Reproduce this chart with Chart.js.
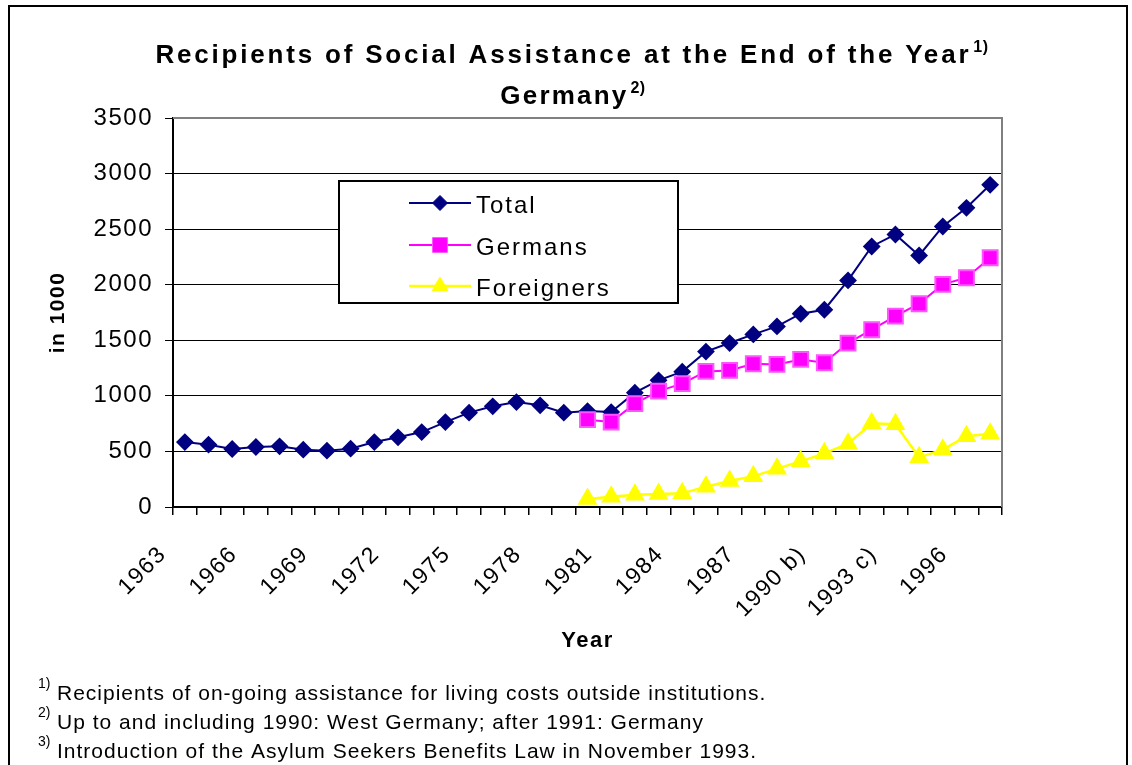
<!DOCTYPE html>
<html>
<head>
<meta charset="utf-8">
<title>Recipients of Social Assistance</title>
<script src="https://cdn.jsdelivr.net/npm/chart.js@4"></script>
<style>
  html, body { margin: 0; padding: 0; background: #fff; }
  #wrap { width: 1132px; height: 765px; }
</style>
</head>
<body>
<div id="wrap"><canvas id="myChart" width="1132" height="765"></canvas></div>
<script>
let years = [
  '1963', '1964', '1965', '1966', '1967', '1968', '1969', '1970', '1971', '1972',
  '1973', '1974', '1975', '1976', '1977', '1978', '1979', '1980', '1981', '1982',
  '1983', '1984', '1985', '1986', '1987', '1988', '1989', '1990 b)', '1991', '1992',
  '1993 c)', '1994', '1995', '1996', '1997'
]

// recipients in 1000
let total = [
  584, 561, 522, 540, 546, 516, 507, 525, 584, 627,
  674, 764, 849, 906, 944, 915, 849, 863, 854, 1029,
  1140, 1218, 1398, 1475, 1553, 1625, 1739, 1775, 2039, 2344,
  2452, 2263, 2524, 2692, 2899
]
let germans = [
  null, null, null, null, null, null, null, null, null, null,
  null, null, null, null, null, null, null, 786, 764, 930,
  1043, 1110, 1220, 1229, 1289, 1283, 1328, 1298, 1475, 1595,
  1718, 1829, 2003, 2063, 2243
]
let foreigners = [
  null, null, null, null, null, null, null, null, null, null,
  null, null, null, null, null, null, null, 72, 93, 111,
  117, 123, 183, 234, 276, 345, 411, 483, 570, 753,
  745, 447, 516, 636, 660
]

let yMin = 0
let yMax = 3500
let yStep = 500
let labelEvery = 3

let titleLines = [
  ['Recipients of Social Assistance at the End of the Year', '1)'],
  ['Germany', '2)']
]
let footnotes = [
  ['1)', 'Recipients of on-going assistance for living costs outside institutions.'],
  ['2)', 'Up to and including 1990: West Germany; after 1991: Germany'],
  ['3)', 'Introduction of the Asylum Seekers Benefits Law in November 1993.']
]

const family = '"Liberation Sans", Arial, sans-serif'
Chart.defaults.font.family = family
Chart.defaults.font.size = 24
Chart.defaults.color = '#000'

function marker(ctx, style, x, y, r) {
  ctx.beginPath()
  if (style === 'rectRot') {
    ctx.moveTo(x, y - r)
    ctx.lineTo(x + r, y)
    ctx.lineTo(x, y + r)
    ctx.lineTo(x - r, y)
  } else if (style === 'rect') {
    const s = r * Math.SQRT1_2
    ctx.rect(x - s, y - s, 2 * s, 2 * s)
  } else {
    for (let k = 0; k < 3; k++) {
      const a = k * 2 * Math.PI / 3
      const px = x + Math.sin(a) * r
      const py = y - Math.cos(a) * r
      k === 0 ? ctx.moveTo(px, py) : ctx.lineTo(px, py)
    }
  }
  ctx.closePath()
  ctx.fill()
  ctx.stroke()
}

function textWithNote(ctx, text, note, cx, baseline, font, noteFont, spacing, rise) {
  ctx.letterSpacing = spacing + 'px'
  ctx.font = font
  const w1 = ctx.measureText(text).width
  ctx.letterSpacing = '0.5px'
  ctx.font = noteFont
  const w2 = ctx.measureText(note).width
  const x0 = cx - (w1 + 2 + w2) / 2
  ctx.letterSpacing = spacing + 'px'
  ctx.font = font
  ctx.fillText(text, x0, baseline)
  ctx.letterSpacing = '0.5px'
  ctx.font = noteFont
  ctx.fillText(note, x0 + w1 + 2, baseline - rise)
}

const decorations = {
  id: 'decorations',
  beforeUpdate(chart) {
    chart.ctx.letterSpacing = '1.5px'
  },
  beforeDatasetsDraw(chart) {
    // grey edge along top and right of the plot area
    const { ctx, chartArea: a } = chart
    ctx.save()
    ctx.strokeStyle = '#808080'
    ctx.lineWidth = 2
    ctx.beginPath()
    ctx.moveTo(a.left, a.top)
    ctx.lineTo(a.right, a.top)
    ctx.lineTo(a.right, a.bottom)
    ctx.stroke()
    ctx.restore()
  },
  afterDraw(chart) {
    const ctx = chart.ctx
    ctx.save()
    ctx.fillStyle = '#000'
    ctx.textAlign = 'left'
    ctx.textBaseline = 'alphabetic'

    // title
    textWithNote(ctx, titleLines[0][0], titleLines[0][1], 572, 63,
      'bold 26px ' + family, 'bold 16px ' + family, 2.8, 11)
    textWithNote(ctx, titleLines[1][0], titleLines[1][1], 573, 104,
      'bold 26px ' + family, 'bold 16px ' + family, 2.2, 11)

    // legend box
    ctx.letterSpacing = '0px'
    ctx.fillStyle = '#fff'
    ctx.fillRect(339, 181, 339, 122)
    ctx.strokeStyle = '#000'
    ctx.lineWidth = 2
    ctx.strokeRect(339, 181, 339, 122)

    const rowY = [203, 245, 286]
    chart.data.datasets.forEach((ds, i) => {
      const y = rowY[i]
      ctx.strokeStyle = ds.borderColor
      ctx.lineWidth = ds.borderWidth
      ctx.beginPath()
      ctx.moveTo(409, y)
      ctx.lineTo(471, y)
      ctx.stroke()
      ctx.fillStyle = ds.pointBackgroundColor
      ctx.strokeStyle = ds.pointBorderColor
      ctx.lineWidth = 1
      marker(ctx, ds.pointStyle, 440, y, ds.pointRadius)
      ctx.fillStyle = '#000'
      ctx.font = '24px ' + family
      ctx.letterSpacing = '2px'
      ctx.fillText(ds.label, 476, y + 10)
    })

    // footnotes
    footnotes.forEach((f, i) => {
      const base = 700 + i * 29
      ctx.letterSpacing = '0px'
      ctx.font = '14px ' + family
      ctx.fillText(f[0], 38, base - 12)
      ctx.letterSpacing = '1px'
      ctx.font = '21px ' + family
      ctx.fillText(f[1], 57, base)
    })

    // outer frame
    ctx.strokeStyle = '#000'
    ctx.lineWidth = 2
    ctx.strokeRect(9, 6, 1118, 800)
    ctx.restore()
  }
}

const ctx = document.getElementById('myChart').getContext('2d')
const myChart = new Chart(ctx, {
  type: 'line',
  data: {
    labels: years,
    datasets: [
      {
        label: 'Total',
        data: total,
        borderColor: '#000080',
        borderWidth: 2,
        pointStyle: 'rectRot',
        pointRadius: 7.5,
        pointBackgroundColor: '#000080',
        pointBorderColor: '#000080',
        order: 3
      },
      {
        label: 'Germans',
        data: germans,
        borderColor: '#ff00ff',
        borderWidth: 2,
        pointStyle: 'rect',
        pointRadius: 10.5,
        pointBackgroundColor: '#ff00ff',
        pointBorderColor: '#ff55ff',
        order: 2
      },
      {
        label: 'Foreigners',
        data: foreigners,
        borderColor: '#ffff00',
        borderWidth: 2.5,
        pointStyle: 'triangle',
        pointRadius: 9,
        pointBackgroundColor: '#ffff00',
        pointBorderColor: '#ffff00',
        order: 1
      }
    ]
  },
  options: {
    responsive: false,
    animation: false,
    layout: {
      padding: { left: 46, top: 118, right: 130, bottom: 111 }
    },
    scales: {
      x: {
        offset: true,
        grid: {
          offset: true,
          drawOnChartArea: false,
          drawTicks: true,
          tickLength: 8,
          color: '#000',
          lineWidth: 1.5
        },
        border: { color: '#000', width: 2 },
        ticks: {
          autoSkip: false,
          minRotation: 45,
          maxRotation: 45,
          padding: 26,
          labelOffset: -22,
          font: { size: 23 },
          callback: function (val, index) {
            return index % labelEvery === 0 ? this.getLabelForValue(val) : ''
          }
        },
        title: {
          display: true,
          text: 'Year',
          font: { size: 22, weight: 'bold' },
          padding: 0
        },
        afterFit(scale) {
          scale.height = 147
        }
      },
      y: {
        min: yMin,
        max: yMax,
        grid: {
          color: '#000',
          lineWidth: 1,
          tickLength: 8
        },
        border: { color: '#000', width: 2 },
        ticks: {
          stepSize: yStep,
          padding: 12,
          callback: val => String(val)
        },
        title: {
          display: true,
          text: 'in 1000',
          font: { size: 21, weight: 'bold' },
          padding: 0
        },
        afterFit(scale) {
          scale.width = 127
        }
      }
    },
    plugins: {
      legend: { display: false },
      tooltip: { enabled: false }
    }
  },
  plugins: [decorations]
})
</script>
</body>
</html>
